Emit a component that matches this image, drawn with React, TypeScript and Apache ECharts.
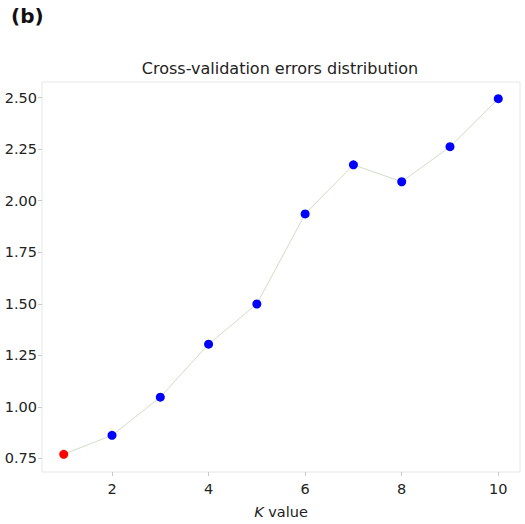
import React, { useEffect, useRef } from "react";
import * as echarts from "echarts";

const kValues = [1, 2, 3, 4, 5, 6, 7, 8, 9, 10];
const errors = [0.77, 0.862, 1.047, 1.304, 1.499, 1.936, 2.174, 2.092, 2.262, 2.495];
const xTicks = [2, 4, 6, 8, 10];
const yTicks = [0.75, 1.0, 1.25, 1.5, 1.75, 2.0, 2.25, 2.5];
const titleText = "Cross-validation errors distribution";
const panelLabel = "(b)";

export default function App() {
  const ref = useRef<HTMLDivElement>(null);
  useEffect(() => {
    if (!ref.current) return;
    const chart = echarts.init(ref.current, null, { renderer: "svg" });
    const font = "DejaVu Sans";
    const data = kValues.map((k, i) => ({
      value: [k, errors[i]],
      itemStyle: { color: i === 0 ? "#ff0000" : "#0000ff" },
    }));
    chart.setOption({
      animation: false,
      backgroundColor: "#ffffff",
      textStyle: { fontFamily: font },
      graphic: [
        {
          type: "text",
          left: 11,
          top: 6,
          style: { text: panelLabel, font: "bold 20px 'DejaVu Sans'", fill: "#111" },
        },
        {
          type: "text",
          x: 280,
          y: 68,
          style: {
            text: titleText,
            font: "16px 'DejaVu Sans'",
            fill: "#222",
            align: "center",
            verticalAlign: "middle",
          },
        },
      ],
      grid: {
        left: 42,
        right: 5,
        top: 82,
        bottom: 51,
        show: true,
        borderColor: "#e6e6e6",
        borderWidth: 1,
      },
      xAxis: {
        type: "value",
        min: 0.55,
        max: 10.45,
        axisLine: { show: false },
        splitLine: { show: false },
        axisTick: { show: true, customValues: xTicks, length: 4, lineStyle: { color: "#c8c8c8" } },
        axisLabel: {
          customValues: xTicks,
          color: "#222",
          fontSize: 14.5,
          fontFamily: font,
          margin: 9,
        },
        name: "{i|K} value",
        nameLocation: "middle",
        nameGap: 32,
        nameTextStyle: {
          color: "#222",
          fontSize: 14.5,
          fontFamily: font,
          rich: { i: { fontStyle: "italic", fontSize: 14.5, fontFamily: font, color: "#222" } },
        },
      },
      yAxis: {
        type: "value",
        min: 0.684,
        max: 2.576,
        axisLine: { show: false },
        splitLine: { show: false },
        axisTick: { show: true, customValues: yTicks, length: 4, lineStyle: { color: "#c8c8c8" } },
        axisLabel: {
          customValues: yTicks,
          color: "#222",
          fontSize: 14.5,
          fontFamily: font,
          margin: 5,
          formatter: (v: number) => v.toFixed(2),
        },
      },
      series: [
        {
          type: "line",
          data,
          symbol: "circle",
          symbolSize: 9,
          lineStyle: { color: "#d0dcc8", width: 1 },
        },
      ],
    });
    return () => chart.dispose();
  }, []);
  return (
    <div
      ref={ref}
      style={{ position: "fixed", left: 0, top: 0, width: 525, height: 524 }}
    />
  );
}
